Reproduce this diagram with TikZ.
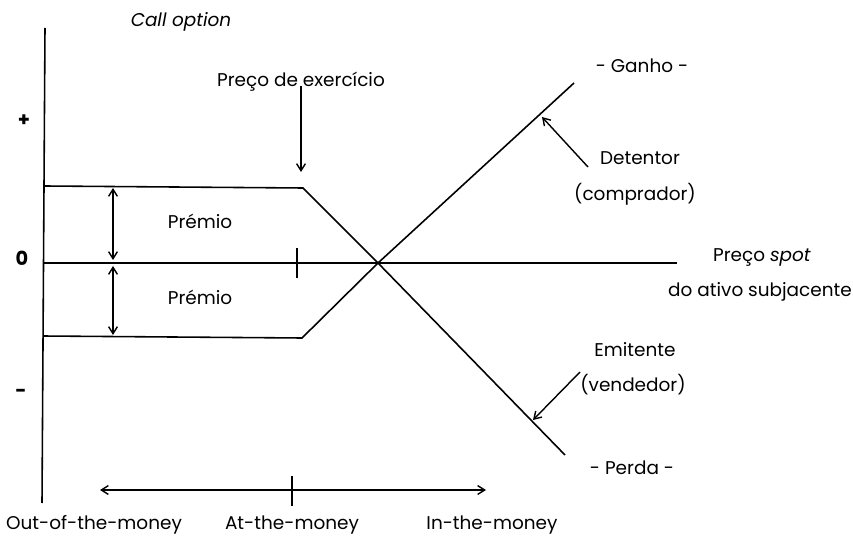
\documentclass[tikz,border=0pt]{standalone}
\usepackage{fontspec}
\setmainfont{Poppins}
\usetikzlibrary{arrows.meta}
\tikzset{
  payoff/.style={line width=0.9pt},
  pointer/.style={thick,-{Straight Barb[length=4pt,width=5pt]}},
  both/.style={thick,{Straight Barb[length=4pt,width=5pt]}-{Straight Barb[length=4pt,width=5pt]}},
  txt/.style={font=\fontsize{10.5}{12}\selectfont,inner sep=1pt},
  sign/.style={font=\fontsize{11}{12}\selectfont\bfseries,inner sep=1pt}
}

\begin{document}
\begin{tikzpicture}[x=0.02cm,y=-0.02cm]
\useasboundingbox (0,0) rectangle (853,544);
% axes
\coordinate (ytop) at (45,28);
\coordinate (ybot) at (42,503);
\coordinate (zl) at (44,263);
\coordinate (zr) at (677,263);
\draw [payoff] (ytop) -- (ybot);
\draw [payoff] (zl) -- (zr);
\coordinate (tickt) at (297,248);
\coordinate (tickb) at (297,278);
\draw [thick] (tickt) -- (tickb);

% holder and writer payoff
\coordinate (cross) at (378,263);
\coordinate (hl) at (45,186);
\coordinate (hk) at (303,188);
\coordinate (he) at (574,83);
\coordinate (wl) at (43,336);
\coordinate (wk) at (302,338);
\coordinate (we) at (565,455);
\draw [payoff] (hl) -- (hk) -- (cross) -- (he);
\draw [payoff] (wl) -- (wk) -- (cross) -- (we);

% premium
\coordinate (pa) at (113,188);
\coordinate (pb) at (113,260);
\coordinate (pc) at (113,266);
\coordinate (pd) at (113,335);
\draw [both] (pa) -- (pb);
\draw [both] (pc) -- (pd);
\node [txt] (prem1) at (200,221) {Prémio};
\node [txt] (prem2) at (200,297) {Prémio};

% labels
\node [txt] (title) at (181,22) {\itshape Call option};
\node [sign] (plus) at (24,121) {+};
\node [sign] (zero) at (22,258) {0};
\node [sign] (minus) at (21,393) {-};
\node [txt] (strike) at (301,82) {Preço de exercício};
\coordinate (sarr) at (301,172);
\draw [pointer] (strike.south) ++(0,-8) coordinate (stail) (stail) -- (sarr);

\node [txt] (gain) at (642,66) {- Ganho -};
\node [txt] (holder) at (640,158) {Detentor};
\node [txt] (buyer) at (635,194) {(comprador)};
\coordinate (htail) at (588,167);
\coordinate (hhead) at (542,117);
\draw [pointer] (htail) -- (hhead);

\node [txt] (spot) at (762,257) {Preço \textit{spot}};
\node [txt] (asset) at (760,292) {do ativo subjacente};

\node [txt] (writer) at (635,350) {Emitente};
\node [txt] (seller) at (633,385) {(vendedor)};
\coordinate (wtail) at (580,372);
\coordinate (whead) at (533,420);
\draw [pointer] (wtail) -- (whead);
\node [txt] (loss) at (632,468) {- Perda -};

% moneyness axis
\coordinate (ml) at (100,490);
\coordinate (mr) at (486,490);
\coordinate (mt) at (292,476);
\coordinate (mb) at (292,506);
\draw [both] (ml) -- (mr);
\draw [thick] (mt) -- (mb);
\node [txt] (otm) at (94,525) {Out-of-the-money};
\node [txt] (atm) at (292,525) {At-the-money};
\node [txt] (itm) at (492,525) {In-the-money};
\end{tikzpicture}
\end{document}
